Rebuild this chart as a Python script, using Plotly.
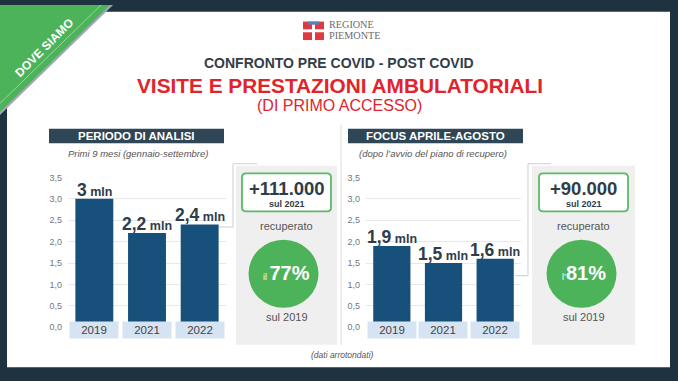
import plotly.graph_objects as go

W, H = 678, 381

# ---- data ----
years = ["2019", "2021", "2022"]
left_values = [3.0, 2.2, 2.4]
left_labels = ["3", "2,2", "2,4"]
right_values = [1.9, 1.5, 1.6]
right_labels = ["1,9", "1,5", "1,6"]
tick_vals = [0, 0.5, 1, 1.5, 2, 2.5, 3, 3.5]
tick_labels = ["0,0", "0,5", "1,0", "1,5", "2,0", "2,5", "3,0", "3,5"]

left_gain = "+111.000"
right_gain = "+90.000"
left_pct = "77%"
right_pct = "81%"

FONT = "Liberation Sans, Arial, sans-serif"
DARK = "#1f3240"
BAR = "#17507a"
GREEN = "#4db35a"
TXT = "#2f3c4a"


def px(x):
    return x / W


def py(y):
    return 1 - y / H


shapes = []
annotations = []


def rect(x0, y0, x1, y1, fill, line=None, lw=0, layer="below"):
    shapes.append(dict(type="rect", xref="paper", yref="paper",
                       x0=px(x0), x1=px(x1), y0=py(y1), y1=py(y0),
                       fillcolor=fill, line=dict(color=line or fill, width=lw), layer=layer))


def path(points, fill=None, line="#cccccc", lw=1, close=False, layer="above"):
    d = "M " + " L ".join(f"{px(x):.5f},{py(y):.5f}" for x, y in points)
    if close:
        d += " Z"
    s = dict(type="path", xref="paper", yref="paper", path=d,
             line=dict(color=line, width=lw), layer=layer)
    if fill:
        s["fillcolor"] = fill
    shapes.append(s)


def rrect(x0, y0, x1, y1, r, fill, line, lw):
    def P(x, y):
        return f"{px(x):.5f},{py(y):.5f}"
    d = (f"M {P(x0 + r, y0)} L {P(x1 - r, y0)} Q {P(x1, y0)} {P(x1, y0 + r)} "
         f"L {P(x1, y1 - r)} Q {P(x1, y1)} {P(x1 - r, y1)} "
         f"L {P(x0 + r, y1)} Q {P(x0, y1)} {P(x0, y1 - r)} "
         f"L {P(x0, y0 + r)} Q {P(x0, y0)} {P(x0 + r, y0)} Z")
    shapes.append(dict(type="path", xref="paper", yref="paper", path=d,
                       fillcolor=fill, line=dict(color=line, width=lw), layer="above"))


def text(x, y, t, size, color=TXT, family=FONT, xanchor="center", **kw):
    annotations.append(dict(x=px(x), y=py(y), xref="paper", yref="paper", text=t,
                            showarrow=False, xanchor=xanchor, yanchor="middle",
                            font=dict(size=size, color=color, family=family), **kw))


# white page inside dark frame
rect(7, 7, 670, 372, "white")

# gray side panels
rect(236, 165, 337, 349, "#efefef")
rect(532, 165, 635, 349, "#efefef")

# divider
path([(341, 123), (341, 349)], line="#dddddd", lw=1, layer="below")

# callout lines
path([(219, 228), (233, 228), (233, 163), (257, 163)], line="#cfcfcf", lw=1)
path([(515, 278), (528, 278), (528, 163), (551, 163)], line="#cfcfcf", lw=1)

# header boxes
rect(49, 127, 224, 142, "#2e4655", layer="above")
rect(348, 127, 523, 142, "#2e4655", layer="above")
text(136.5, 134.5, "<b>PERIODO DI ANALISI</b>", 11.5, "white")
text(435.5, 134.5, "<b>FOCUS APRILE-AGOSTO</b>", 11.5, "white")
text(138, 152, "<i>Primi 9 mesi (gennaio-settembre)</i>", 9.5, "#555555")
text(433, 152, "<i>(dopo l’avvio del piano di recupero)</i>", 9.5, "#555555")

# titles
text(339, 60, "<b>CONFRONTO PRE COVID - POST COVID</b>", 14, "#333d47")
text(339.5, 83, "<b>VISITE E PRESTAZIONI AMBULATORIALI</b>", 20.8, "#e1242b")
text(339, 103, "(DI PRIMO ACCESSO)", 16, "#e1242b")

# logo
rect(303, 17, 324, 36, "#e03a3e", layer="above")
rect(312, 20, 315, 36, "white", layer="above")
rect(303, 25, 324, 28, "white", layer="above")
rect(308, 17, 319, 20, "#5a7fc0", layer="above")
SERIF = "Liberation Serif, Times New Roman, serif"
text(328, 20.3, "REGIONE", 10.2, "#6b6b6b", family=SERIF, xanchor="left", borderpad=0)
text(328, 31.6, "PIEMONTE", 10.2, "#6b6b6b", family=SERIF, xanchor="left", borderpad=0)

# side panels content
for cx, gain, pct, pre in [(286.5, left_gain, left_pct, "il "), (583.5, right_gain, right_pct, "l’")]:
    rrect(cx - 44.5, 173, cx + 44.5, 212, 4, "white", "#5cb865", 1.8)
    text(cx, 188, f"<b>{gain}</b>", 18.5, TXT, borderpad=0)
    text(cx, 204.6, "<b>sul 2021</b>", 9, TXT, borderpad=0)
    text(cx, 227, "recuperato", 11, "#555555")
    ccx = cx - 3 if cx < 400 else cx - 2
    shapes.append(dict(type="circle", xref="paper", yref="paper",
                       x0=px(ccx - 35), x1=px(ccx + 35), y0=py(276 + 35), y1=py(276 - 35),
                       fillcolor=GREEN, line=dict(width=0), layer="above"))
    text(cx, 275, f"<span style='font-size:9px'>{pre}</span><b>{pct}</b>", 20, "white")
    text(cx, 320, "sul 2019", 11, "#555555")

text(342, 359, "<i>(dati arrotondati)</i>", 8.5, "#555555")

# corner ribbon
path([(0, 0), (113, 0), (0, 113)], fill="#a3a6b6", line="#a3a6b6", lw=0, close=True)
path([(0, 0), (110, 0), (0, 110)], fill="#4cb35a", line="#4cb35a", lw=0, close=True)
path([(101, 0), (0, 101)], line="rgba(255,255,255,0.55)", lw=0.8)
annotations.append(dict(x=px(44), y=py(44), xref="paper", yref="paper",
                        xanchor="center", yanchor="middle",
                        text="<b>DOVE SIAMO</b>", showarrow=False, textangle=-45,
                        font=dict(size=12, color="white", family=FONT)))

fig = go.Figure()
fig.add_trace(go.Bar(x=years, y=left_values, marker=dict(color=BAR, line=dict(width=0)),
                     xaxis="x", yaxis="y", hoverinfo="skip"))
fig.add_trace(go.Bar(x=years, y=right_values, marker=dict(color=BAR, line=dict(width=0)),
                     xaxis="x2", yaxis="y2", hoverinfo="skip"))

for xa, vals, labs in [("x", left_values, left_labels), ("x2", right_values, right_labels)]:
    ya = "y" if xa == "x" else "y2"
    for i, (yr, v, lab) in enumerate(zip(years, vals, labs)):
        annotations.append(dict(x=i, y=v, xref=xa, yref=ya, showarrow=False,
                                yanchor="bottom", yshift=-3,
                                text=f"<b>{lab}<span style='font-size:12.5px'> mln</span></b>",
                                font=dict(size=17.5, color=TXT, family=FONT)))
        annotations.append(dict(x=i, y=py(343), xref=xa, yref="paper", showarrow=False,
                                text=yr, bgcolor="#d6e3f3", width=46, height=14,
                                font=dict(size=11.5, color="#444444", family=FONT)))

axis_y = dict(range=[0, 3.5], tickvals=tick_vals, ticktext=tick_labels, showgrid=True,
              gridcolor="#e8e8e8", gridwidth=1, zeroline=False, showline=False, ticks="",
              tickfont=dict(size=9, color="#777777", family=FONT), fixedrange=True,
              domain=[py(331), py(177)], ticklabelstandoff=5)
axis_x = dict(type="category", showticklabels=False, showgrid=False, zeroline=False,
              showline=False, ticks="", fixedrange=True, range=[-0.5, 2.5])

fig.update_layout(
    width=W, height=H, margin=dict(l=0, r=0, t=0, b=0),
    paper_bgcolor=DARK, plot_bgcolor="rgba(0,0,0,0)", showlegend=False, bargap=0.28,
    xaxis=dict(axis_x, domain=[px(68), px(226)], anchor="y"),
    yaxis=dict(axis_y, anchor="x"),
    xaxis2=dict(axis_x, domain=[px(366), px(521)], anchor="y2"),
    yaxis2=dict(axis_y, anchor="x2"),
    shapes=shapes, annotations=annotations,
    font=dict(family=FONT),
)

fig.write_html("out.html", config={"displayModeBar": False},
               post_script="document.body.style.margin='0';document.body.style.overflow='hidden';")
